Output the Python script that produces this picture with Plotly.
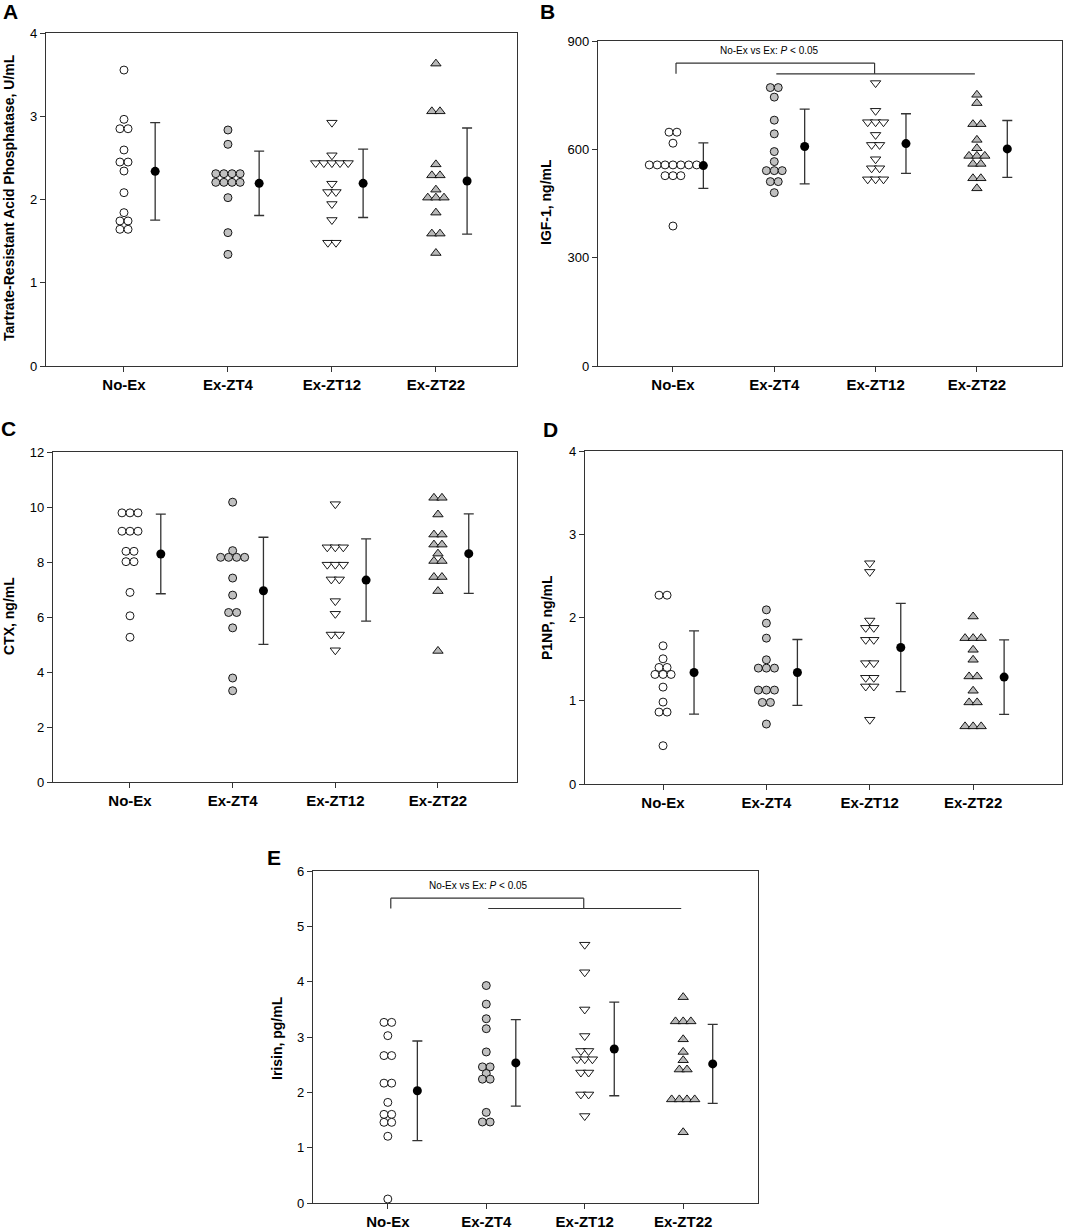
import plotly.graph_objects as go
from collections import Counter

groups = ["No-Ex", "Ex-ZT4", "Ex-ZT12", "Ex-ZT22"]

# A - Tartrate-Resistant Acid Phosphatase, U/mL
trap_noex = [3.555, 2.963, 2.85, 2.85, 2.595, 2.45, 2.45, 2.342, 2.082, 1.842, 1.742, 1.742, 1.642, 1.642]
trap_zt4 = [2.835, 2.663, 2.31, 2.31, 2.31, 2.31, 2.206, 2.206, 2.206, 2.206, 2.022, 1.602, 1.341]
trap_zt12 = [2.923, 2.531, 2.438, 2.438, 2.438, 2.438, 2.438, 2.19, 2.09, 2.09, 1.946, 1.754, 1.481, 1.481]
trap_zt22 = [3.632, 3.059, 3.059, 2.422, 2.29, 2.29, 2.118, 2.022, 2.022, 2.022, 1.842, 1.59, 1.59, 1.357]
trap_mean = [2.338, 2.194, 2.194, 2.222]
trap_sd = [0.585, 0.386, 0.41, 0.637]

# B - IGF-1, ng/mL
igf_noex = [647.5, 647.5, 617, 556.8, 556.8, 556.8, 556.8, 556.8, 556.8, 556.8, 527, 527, 527, 387.6]
igf_zt4 = [771, 771, 744.6, 680.8, 642.9, 593.8, 566, 541, 541, 541, 510.6, 510.6, 480]
igf_zt12 = [783.5, 706.7, 675.2, 675.2, 675.2, 640, 612.3, 612.3, 572.6, 547.6, 547.6, 517, 517, 517]
igf_zt22 = [751, 728, 669.7, 669.7, 626.2, 603, 581.8, 581.8, 581.8, 559.6, 559.6, 519.8, 519.8, 492]
igf_mean = [555, 607.7, 616, 601.2]
igf_sd = [63, 103.6, 82.6, 78.7]

# C - CTX, ng/mL
ctx_noex = [9.787, 9.787, 9.787, 9.119, 9.119, 9.119, 8.389, 8.389, 8.012, 8.012, 6.894, 6.043, 5.264]
ctx_zt4 = [10.176, 8.413, 8.17, 8.17, 8.17, 8.17, 7.416, 6.796, 6.164, 6.164, 5.605, 3.781, 3.319]
ctx_zt12 = [10.103, 8.535, 8.535, 8.535, 7.903, 7.903, 7.903, 7.368, 7.368, 6.578, 6.116, 5.362, 5.362, 4.79]
ctx_zt22 = [10.334, 10.334, 9.726, 8.997, 8.997, 8.632, 8.632, 8.304, 8.036, 8.036, 7.453, 7.453, 6.942, 4.766]
ctx_mean = [8.292, 6.954, 7.343, 8.304]
ctx_sd = [1.447, 1.946, 1.496, 1.447]

# D - P1NP, ng/mL
p1np_noex = [2.268, 2.268, 1.66, 1.504, 1.4, 1.4, 1.316, 1.316, 1.316, 1.164, 0.984, 0.864, 0.864, 0.46]
p1np_zt4 = [2.092, 1.932, 1.752, 1.492, 1.392, 1.392, 1.392, 1.128, 1.128, 1.128, 0.98, 0.98, 0.72]
p1np_zt12 = [2.652, 2.548, 1.964, 1.876, 1.876, 1.732, 1.732, 1.452, 1.452, 1.276, 1.276, 1.172, 1.172, 0.772]
p1np_zt22 = [2.012, 1.752, 1.752, 1.752, 1.612, 1.492, 1.292, 1.292, 1.12, 0.98, 0.98, 0.692, 0.692, 0.692]
p1np_mean = [1.34, 1.34, 1.64, 1.284]
p1np_sd = [0.5, 0.396, 0.53, 0.448]

# E - Irisin, pg/mL
iri_noex = [3.264, 3.264, 3.024, 2.664, 2.664, 2.166, 2.166, 1.818, 1.602, 1.602, 1.458, 1.458, 1.206, 0.072]
iri_zt4 = [3.93, 3.594, 3.33, 3.15, 2.73, 2.46, 2.46, 2.34, 2.238, 2.238, 1.638, 1.464, 1.464]
iri_zt12 = [4.668, 4.17, 3.498, 3.018, 2.748, 2.748, 2.598, 2.598, 2.598, 2.358, 2.358, 1.962, 1.962, 1.572]
iri_zt22 = [3.72, 3.282, 3.282, 3.282, 2.958, 2.73, 2.58, 2.412, 2.412, 1.872, 1.872, 1.872, 1.872, 1.278]
iri_mean = [2.028, 2.532, 2.784, 2.514]
iri_sd = [0.9, 0.783, 0.846, 0.714]

# significance brackets (B and E): upper line, lower line, text height
igf_bracket = [839, 809, 873]
iri_bracket = [5.508, 5.322, 5.74]

styles = [
    dict(symbol="circle", color="white", size=8),
    dict(symbol="circle", color="#c0c0c0", size=8),
    dict(symbol="triangle-down", color="white", size=9),
    dict(symbol="triangle-up", color="#b8b8b8", size=9),
]


def spread(vals, center, step=0.078):
    counts = Counter(vals)
    seen = {}
    xs = []
    for v in vals:
        k = counts[v]
        i = seen.get(v, 0)
        seen[v] = i + 1
        xs.append(center + (i - (k - 1) / 2) * step)
    return xs


fig = go.Figure()


def add_panel(n, data, means, sds):
    xa = "x" if n == 1 else "x%d" % n
    ya = "y" if n == 1 else "y%d" % n
    for gi, vals in enumerate(data):
        st = styles[gi]
        fig.add_trace(go.Scatter(
            x=spread(vals, gi + 1), y=vals, mode="markers",
            xaxis=xa, yaxis=ya, showlegend=False,
            marker=dict(symbol=st["symbol"], size=st["size"], color=st["color"],
                        line=dict(color="black", width=0.9))))
    fig.add_trace(go.Scatter(
        x=[i + 1.3 for i in range(4)], y=means, mode="markers",
        xaxis=xa, yaxis=ya, showlegend=False,
        marker=dict(symbol="circle", size=9, color="black"),
        error_y=dict(type="data", array=sds, color="#333333", thickness=1.3, width=5)))


add_panel(1, [trap_noex, trap_zt4, trap_zt12, trap_zt22], trap_mean, trap_sd)
add_panel(2, [igf_noex, igf_zt4, igf_zt12, igf_zt22], igf_mean, igf_sd)
add_panel(3, [ctx_noex, ctx_zt4, ctx_zt12, ctx_zt22], ctx_mean, ctx_sd)
add_panel(4, [p1np_noex, p1np_zt4, p1np_zt12, p1np_zt22], p1np_mean, p1np_sd)
add_panel(5, [iri_noex, iri_zt4, iri_zt12, iri_zt22], iri_mean, iri_sd)

W, H = 1065, 1229


def px_x(a, b):
    return [a / W, b / W]


def px_y(top, bottom):
    return [1 - bottom / H, 1 - top / H]


def pt(x, y):
    return x / W, 1 - y / H


panels = [
    # x domain, y domain, x range, y max, dtick
    (px_x(46, 517), px_y(33, 366), [0.25, 4.78], 4, 1),
    (px_x(598, 1062), px_y(41, 366), [0.26, 4.84], 900, 300),
    (px_x(53, 517), px_y(452, 782), [0.25, 4.77], 12, 2),
    (px_x(585, 1062), px_y(451, 784), [0.245, 4.86], 4, 1),
    (px_x(313, 758), px_y(871, 1203), [0.24, 4.76], 6, 1),
]

axis_common = dict(showline=True, mirror=True, linecolor="#333333", linewidth=1.2,
                   showgrid=False, zeroline=False, ticks="outside", ticklen=5,
                   tickcolor="#333333", tickwidth=1.2, automargin=False)

layout = dict(width=W, height=H, margin=dict(l=0, r=0, t=0, b=0, pad=0),
              template="none", plot_bgcolor="white", paper_bgcolor="white",
              font=dict(family="Liberation Sans, Arial, sans-serif", color="black"))

for i, (xd, yd, xr, ymax, dt) in enumerate(panels):
    n = i + 1
    xk = "xaxis" if n == 1 else "xaxis%d" % n
    yk = "yaxis" if n == 1 else "yaxis%d" % n
    layout[xk] = dict(domain=xd, range=xr, tickvals=[1, 2, 3, 4],
                      ticktext=["<b>%s</b>" % g for g in groups],
                      tickfont=dict(size=15), anchor="y" if n == 1 else "y%d" % n,
                      **axis_common)
    layout[yk] = dict(domain=yd, range=[0, ymax], dtick=dt, tickfont=dict(size=13),
                      anchor="x" if n == 1 else "x%d" % n, **axis_common)

fig.update_layout(**layout)

# panel letters (pixel positions of the reference)
letters = [("A", 10, 12), ("B", 547, 12), ("C", 9, 428), ("D", 550, 429), ("E", 274, 857)]
for t, x, y in letters:
    px, py = pt(x, y)
    fig.add_annotation(text="<b>%s</b>" % t, x=px, y=py, xref="paper", yref="paper",
                       xanchor="center", yanchor="middle",
                       showarrow=False, font=dict(size=21))

# y titles
ytitles = [("Tartrate-Resistant Acid Phosphatase, U/mL", 9, 198),
           ("IGF-1, ng/mL", 546, 202),
           ("CTX, ng/mL", 9, 616),
           ("P1NP, ng/mL", 547, 618),
           ("Irisin, pg/mL", 277, 1038)]
for t, x, y in ytitles:
    px, py = pt(x, y)
    fig.add_annotation(text="<b>%s</b>" % t, x=px, y=py, xref="paper", yref="paper",
                       xanchor="center", yanchor="middle",
                       textangle=-90, showarrow=False, font=dict(size=14))

# significance brackets
for n, br, tx in [(2, igf_bracket, 1.95), (5, iri_bracket, 1.92)]:
    xr, yr = "x%d" % n, "y%d" % n
    hi, lo, ty = br
    line = dict(color="#333333", width=1.2)
    fig.add_shape(type="line", xref=xr, yref=yr, x0=1.03, x1=1.03, y0=lo, y1=hi, line=line)
    fig.add_shape(type="line", xref=xr, yref=yr, x0=1.03, x1=2.99, y0=hi, y1=hi, line=line)
    fig.add_shape(type="line", xref=xr, yref=yr, x0=2.99, x1=2.99, y0=hi, y1=lo, line=line)
    fig.add_shape(type="line", xref=xr, yref=yr, x0=2.02, x1=3.98, y0=lo, y1=lo, line=line)
    fig.add_annotation(text="No-Ex vs Ex: <i>P</i> &lt; 0.05", x=tx, y=ty, xref=xr, yref=yr,
                       showarrow=False, font=dict(size=10))

# drop the default page margin so the figure fills the window exactly
fig.write_html("out.html", config={"displayModeBar": False},
               post_script="document.body.style.margin = '0';")
